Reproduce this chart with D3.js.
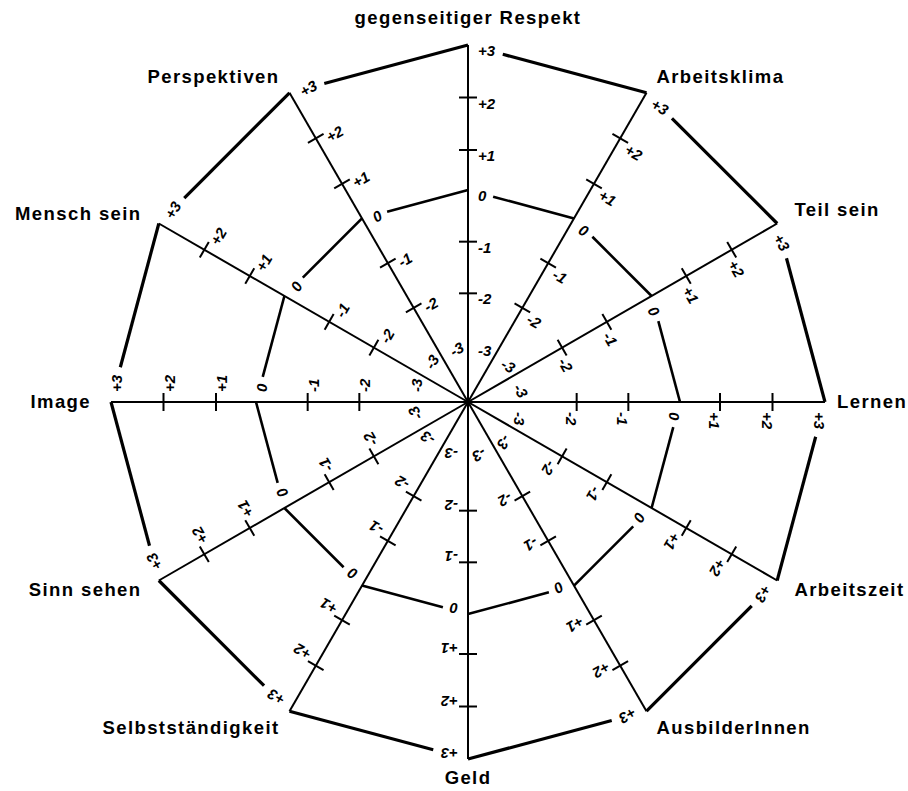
<!DOCTYPE html>
<html>
<head>
    <meta charset="utf-8">
    <title>Spinnennetz</title>
    <script src="https://cdn.jsdelivr.net/npm/d3@7"></script>
    <style>
        body { margin: 0; background: #fff; }
        #drawingPlace text.cat {
            font-family: "Liberation Sans", Arial, sans-serif;
            font-weight: bold;
            font-size: 18.5px;
            letter-spacing: 1.4px;
        }
        #drawingPlace text.tick {
            font-family: "Liberation Sans", Arial, sans-serif;
            font-weight: bold;
            font-style: italic;
            font-size: 15px;
        }
    </style>
</head>
<body>
<svg id="drawingPlace" width="908" height="791"></svg>
<script>
// categories, clockwise from the top
var categories = ["gegenseitiger Respekt", "Arbeitsklima", "Teil sein", "Lernen",
    "Arbeitszeit", "AusbilderInnen", "Geld", "Selbstständigkeit",
    "Sinn sehen", "Image", "Mensch sein", "Perspektiven"];

// scale steps and their labels
var tickValues = [-3, -2, -1, 0, 1, 2, 3];
var tickLabels = ["-3", "-2", "-1", "0", "+1", "+2", "+3"];
var tickMarks = [-2, -1, 1, 2];

// the two rings: outer frame (+3) and the zero line
var outerLine = [3, 3, 3, 3, 3, 3, 3, 3, 3, 3, 3, 3];
var zeroLine = [0, 0, 0, 0, 0, 0, 0, 0, 0, 0, 0, 0];

window.addEventListener("load", drawDiagram);
function drawDiagram() {
    var w = 908, h = 791;
    var cx = 468, cy = 402;

    var svg = d3.select("#drawingPlace")
        .attr("width", w)
        .attr("height", h);

    // radius scale (the 0..+1 step is shorter in the original)
    var r = d3.scaleLinear()
        .domain([-3, 0, 1, 3])
        .range([57, 212, 252, 357]);

    var angle = d3.scaleLinear()
        .domain([0, categories.length])
        .range([0, 360]);

    function point(i, v) {
        var a = angle(i) * Math.PI / 180;
        return [cx + r(v) * Math.sin(a), cy - r(v) * Math.cos(a)];
    }

    // ring segments: start a bit after vertex i (room for label), end on vertex i+1
    function drawRing(values, gap, width) {
        var segs = values.map(function (v, i) {
            var j = (i + 1) % values.length;
            var p1 = point(i, v), p2 = point(j, values[j]);
            var dx = p2[0] - p1[0], dy = p2[1] - p1[1];
            var len = Math.sqrt(dx * dx + dy * dy);
            return [[p1[0] + dx / len * gap, p1[1] + dy / len * gap], p2];
        });
        svg.append("g").selectAll("line")
            .data(segs)
            .enter()
            .append("line")
            .attr("x1", d => d[0][0])
            .attr("y1", d => d[0][1])
            .attr("x2", d => d[1][0])
            .attr("y2", d => d[1][1])
            .attr("stroke", "#000")
            .attr("stroke-width", width);
    }

    drawRing(outerLine, 36, 3.2);
    drawRing(zeroLine, 26, 2.6);

    // one rotated group per axis
    var axes = svg.selectAll("g.axis")
        .data(categories)
        .enter()
        .append("g")
        .attr("class", "axis")
        .attr("transform", (d, i) => "translate(" + cx + "," + cy + ") rotate(" + angle(i) + ")");

    axes.append("line")
        .attr("x1", 0).attr("y1", 0)
        .attr("x2", 0).attr("y2", -r(3))
        .attr("stroke", "#000")
        .attr("stroke-width", 2);

    axes.selectAll("line.tm")
        .data(tickMarks)
        .enter()
        .append("line")
        .attr("class", "tm")
        .attr("x1", -9).attr("x2", 9)
        .attr("y1", d => -r(d))
        .attr("y2", d => -r(d))
        .attr("stroke", "#000")
        .attr("stroke-width", 2);

    axes.selectAll("text.tick")
        .data(tickValues)
        .enter()
        .append("text")
        .attr("class", "tick")
        .attr("x", 10)
        .attr("y", d => -r(d) + 11)
        .text((d, i) => tickLabels[i]);

    // category names outside the frame
    svg.append("g").selectAll("text.cat")
        .data(categories)
        .enter()
        .append("text")
        .attr("class", "cat")
        .attr("x", function (d, i) {
            var a = angle(i) * Math.PI / 180;
            var k = d === "Lernen" ? 12 : 20;
            return point(i, 3)[0] + k * Math.sin(a);
        })
        .attr("y", function (d, i) {
            var a = angle(i) * Math.PI / 180;
            var k = i === 0 ? 27 : (d === "Teil sein" ? 28 : 19);
            return point(i, 3)[1] - k * Math.cos(a);
        })
        .attr("dy", "0.35em")
        .attr("text-anchor", function (d, i) {
            var s = Math.sin(angle(i) * Math.PI / 180);
            return s > 0.1 ? "start" : (s < -0.1 ? "end" : "middle");
        })
        .text(d => d);
}
</script>
</body>
</html>
